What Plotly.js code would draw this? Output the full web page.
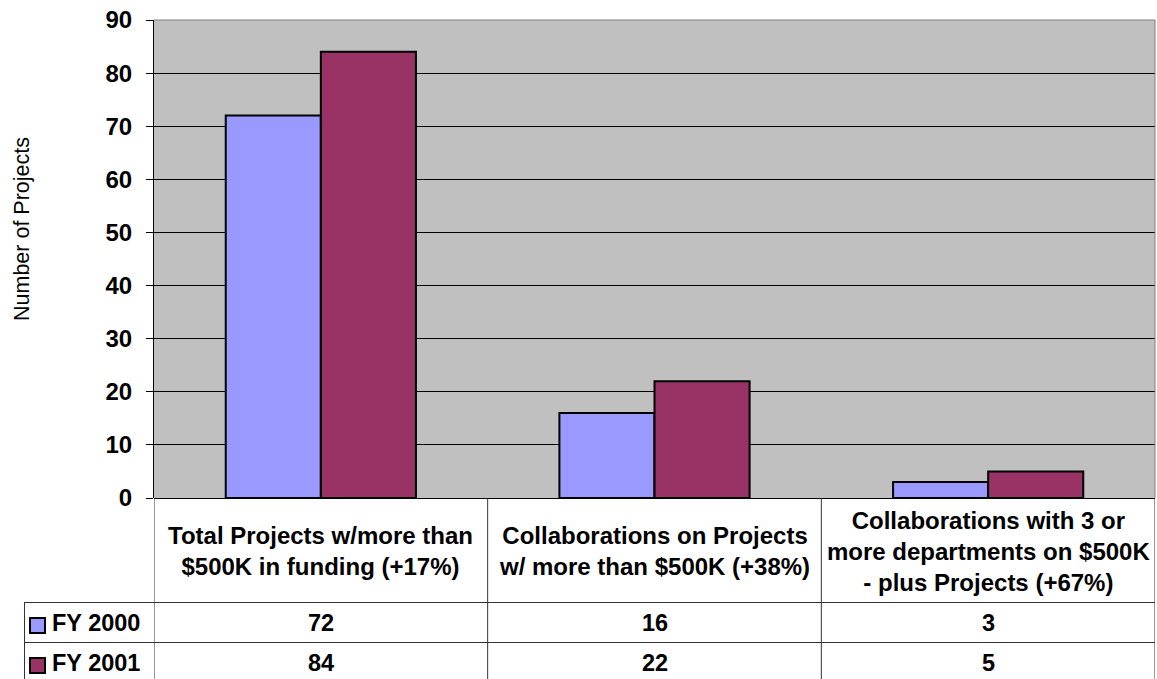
<!DOCTYPE html>
<html>
<head>
<meta charset="utf-8">
<script src="https://cdn.plot.ly/plotly-3.0.1.min.js"></script>
<style>html,body{margin:0;padding:0;background:#fff;}#chart{width:1157px;height:679px;}</style>
</head>
<body>
<div id="chart"></div>
<script>
// ---- data ----
var categories = [
  "Total Projects w/more than<br>$500K in funding (+17%)",
  "Collaborations on Projects<br>w/ more than $500K (+38%)",
  "Collaborations with 3 or<br>more departments on $500K<br>- plus Projects (+67%)"
];
var seriesNames = ["FY 2000", "FY 2001"];
var fy2000 = [72, 16, 3];
var fy2001 = [84, 22, 5];
var yTickVals = [0, 10, 20, 30, 40, 50, 60, 70, 80, 90];
var yTitle = "Number of Projects";

// ---- styling / layout ----
var W = 1157, H = 679;
var L = 154, R = 2, T = 20, B = 181;
var PW = W - L - R, PH = H - T - B;
var FONT = "Liberation Sans, Arial, sans-serif";
var colors = ["#9999FF", "#993366"];
var lineCol = "#333333";
function px(x) { return (x - L) / PW; }
function py(y) { return (T + PH - y) / PH; }

var idx = categories.map(function (_, i) { return i; });
var traces = [fy2000, fy2001].map(function (vals, s) {
  return {
    type: "bar", x: idx, y: vals, name: seriesNames[s],
    marker: { color: colors[s], line: { color: "#000", width: 2 } },
    hoverinfo: "none"
  };
});

var shapes = [];
var annotations = [];
// plot area gray border (top / right)
shapes.push({ type: "line", xref: "paper", yref: "paper", x0: 0, x1: 1, y0: 1, y1: 1, line: { color: "#808080", width: 1 } });
shapes.push({ type: "line", xref: "paper", yref: "paper", x0: 1, x1: 1, y0: 0, y1: 1, line: { color: "#808080", width: 1 } });
// table vertical lines at category boundaries
for (var k = 0; k <= categories.length; k++) {
  shapes.push({ type: "line", xref: "x", yref: "paper", x0: k - 0.5, x1: k - 0.5, y0: 0, y1: py(690), line: { color: lineCol, width: 1 } });
}
// table horizontal lines
[602.5, 642.5].forEach(function (yy) {
  shapes.push({ type: "line", xref: "paper", yref: "paper", x0: px(24), x1: 1, y0: py(yy), y1: py(yy), line: { color: lineCol, width: 1 } });
});
// legend column left border
shapes.push({ type: "line", xref: "paper", yref: "paper", x0: px(24.5), x1: px(24.5), y0: py(602.5), y1: py(690), line: { color: lineCol, width: 1 } });

// category labels
categories.forEach(function (c, i) {
  annotations.push({ xref: "x", yref: "paper", x: i, y: py(551), text: c, showarrow: false,
    xanchor: "center", yanchor: "middle", align: "center",
    font: { family: FONT, size: 24, color: "#000", weight: "bold" } });
});
// rows: legend keys + values
var rowCenters = [623, 663];
[fy2000, fy2001].forEach(function (vals, s) {
  var yc = rowCenters[s];
  shapes.push({ type: "rect", xref: "paper", yref: "paper", x0: px(30), x1: px(45), y0: py(yc - 5), y1: py(yc + 10),
    fillcolor: colors[s], line: { color: "#000", width: 2 } });
  annotations.push({ xref: "paper", yref: "paper", x: px(50), y: py(yc), text: seriesNames[s], showarrow: false,
    xanchor: "left", yanchor: "middle", font: { family: FONT, size: 23.5, color: "#000", weight: "bold" } });
  vals.forEach(function (v, i) {
    annotations.push({ xref: "x", yref: "paper", x: i, y: py(yc), text: String(v), showarrow: false,
      xanchor: "center", yanchor: "middle", font: { family: FONT, size: 23.5, color: "#000", weight: "bold" } });
  });
});
// y axis title
annotations.push({ xref: "paper", yref: "paper", x: px(22), y: py(229), text: yTitle, textangle: -90, showarrow: false,
  xanchor: "center", yanchor: "middle", font: { family: FONT, size: 21.5, color: "#000" } });

var layout = {
  width: W, height: H,
  margin: { l: L, r: R, t: T, b: B, pad: 0 },
  paper_bgcolor: "#fff", plot_bgcolor: "#C0C0C0",
  showlegend: false,
  barmode: "group", bargap: 0.43, bargroupgap: 0,
  font: { family: FONT, color: "#000" },
  xaxis: { range: [-0.5, categories.length - 0.5], showticklabels: false, ticks: "", showgrid: false, zeroline: false, showline: false, fixedrange: true },
  yaxis: { range: [0, 90], tickvals: yTickVals, ticks: "outside", ticklen: 7, tickcolor: "#000", tickwidth: 1,
    showgrid: true, gridcolor: "#000", gridwidth: 1, zeroline: true, zerolinecolor: "#000", zerolinewidth: 1,
    showline: true, linecolor: "#000", linewidth: 1, ticklabelstandoff: 9,
    tickfont: { family: FONT, size: 24, color: "#000", weight: "bold" }, fixedrange: true },
  shapes: shapes, annotations: annotations
};
Plotly.newPlot("chart", traces, layout, { displayModeBar: false, staticPlot: true });
</script>
</body>
</html>
